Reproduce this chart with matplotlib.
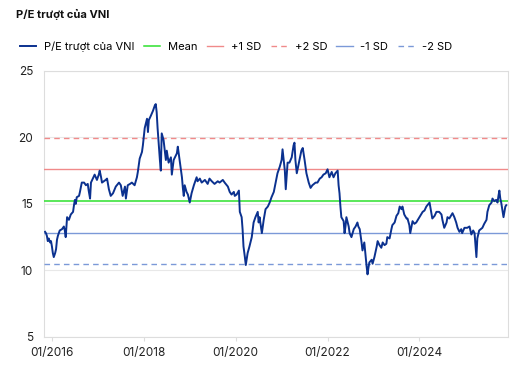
import matplotlib
matplotlib.use("Agg")
import matplotlib.pyplot as plt

plt.rcParams["font.family"] = ["Inter", "DejaVu Sans"]

# P/E trượt của VNI, thời gian tính theo năm thập phân
years = [2015.85, 2015.87, 2015.89, 2015.91, 2015.93, 2015.96, 2015.98, 2016.00, 2016.02, 2016.04,
         2016.07, 2016.09, 2016.11, 2016.13, 2016.17, 2016.22, 2016.26, 2016.28, 2016.30, 2016.33,
         2016.37, 2016.41, 2016.46, 2016.48, 2016.50, 2016.52, 2016.54, 2016.59, 2016.61, 2016.65,
         2016.70, 2016.74, 2016.78, 2016.80, 2016.83, 2016.85, 2016.89, 2016.93, 2016.98, 2017.02,
         2017.04, 2017.07, 2017.09, 2017.13, 2017.17, 2017.20, 2017.24, 2017.28, 2017.33, 2017.39,
         2017.46, 2017.50, 2017.54, 2017.59, 2017.61, 2017.65, 2017.70, 2017.74, 2017.80, 2017.85,
         2017.87, 2017.91, 2017.96, 2017.98, 2018.02, 2018.07, 2018.09, 2018.11, 2018.15, 2018.20,
         2018.24, 2018.26, 2018.28, 2018.30, 2018.35, 2018.37, 2018.39, 2018.43, 2018.48, 2018.50,
         2018.54, 2018.59, 2018.61, 2018.65, 2018.72, 2018.74, 2018.78, 2018.83, 2018.85, 2018.87,
         2018.89, 2018.93, 2018.96, 2019.00, 2019.04, 2019.09, 2019.15, 2019.17, 2019.22, 2019.26,
         2019.33, 2019.39, 2019.43, 2019.48, 2019.54, 2019.61, 2019.65, 2019.72, 2019.76, 2019.83,
         2019.87, 2019.91, 2019.96, 2019.98, 2020.02, 2020.07, 2020.09, 2020.13, 2020.15, 2020.17,
         2020.20, 2020.22, 2020.26, 2020.30, 2020.35, 2020.39, 2020.43, 2020.48, 2020.50, 2020.52,
         2020.57, 2020.61, 2020.65, 2020.70, 2020.74, 2020.78, 2020.83, 2020.87, 2020.91, 2020.96,
         2021.00, 2021.02, 2021.07, 2021.09, 2021.13, 2021.17, 2021.22, 2021.26, 2021.28, 2021.30,
         2021.33, 2021.39, 2021.43, 2021.46, 2021.50, 2021.54, 2021.59, 2021.63, 2021.67, 2021.74,
         2021.78, 2021.83, 2021.87, 2021.91, 2021.96, 2022.00, 2022.04, 2022.09, 2022.13, 2022.17,
         2022.22, 2022.24, 2022.26, 2022.28, 2022.30, 2022.35, 2022.37, 2022.39, 2022.41, 2022.46,
         2022.48, 2022.52, 2022.57, 2022.61, 2022.65, 2022.67, 2022.70, 2022.74, 2022.76, 2022.80,
         2022.83, 2022.85, 2022.87, 2022.89, 2022.91, 2022.96, 2022.98, 2023.02, 2023.07, 2023.09,
         2023.13, 2023.17, 2023.20, 2023.24, 2023.28, 2023.30, 2023.35, 2023.39, 2023.41, 2023.46,
         2023.50, 2023.54, 2023.57, 2023.61, 2023.63, 2023.67, 2023.72, 2023.74, 2023.78, 2023.80,
         2023.85, 2023.89, 2023.93, 2024.00, 2024.07, 2024.11, 2024.15, 2024.22, 2024.26, 2024.28,
         2024.33, 2024.37, 2024.43, 2024.48, 2024.50, 2024.54, 2024.59, 2024.61, 2024.65, 2024.72,
         2024.76, 2024.80, 2024.83, 2024.87, 2024.91, 2024.93, 2024.98, 2025.04, 2025.09, 2025.13,
         2025.17, 2025.20, 2025.24, 2025.26, 2025.30, 2025.37, 2025.41, 2025.46, 2025.48, 2025.52,
         2025.57, 2025.59, 2025.63, 2025.67, 2025.70, 2025.72, 2025.74, 2025.76, 2025.78, 2025.83,
         2025.87, 2025.89]

pe = [12.9, 12.8, 12.6, 12.2, 12.4, 12.1, 12.2, 11.8, 11.3, 11.0,
      11.3, 11.6, 12.3, 12.6, 13.0, 13.1, 13.3, 13.0, 12.5, 14.0,
      13.8, 14.2, 14.4, 14.9, 15.3, 15.0, 15.5, 15.6, 15.9, 16.6,
      16.6, 16.4, 16.5, 16.0, 15.4, 16.6, 16.9, 17.2, 16.8, 17.2,
      17.5, 17.0, 16.6, 16.7, 16.8, 16.9, 16.1, 15.6, 15.8, 16.3,
      16.6, 16.4, 15.6, 16.3, 15.4, 16.4, 16.5, 16.6, 16.4, 17.0,
      17.4, 18.4, 18.9, 19.4, 20.7, 21.4, 20.4, 21.3, 21.6, 22.0,
      22.4, 22.5, 21.9, 20.7, 18.3, 17.5, 20.3, 19.8, 18.3, 19.0,
      18.1, 18.5, 17.2, 18.3, 18.8, 19.3, 18.3, 17.0, 16.2, 15.6,
      16.4, 15.9, 15.7, 15.1, 15.8, 16.4, 17.0, 16.7, 16.9, 16.6,
      16.8, 16.5, 16.9, 16.7, 16.5, 16.7, 16.6, 16.8, 16.6, 16.3,
      15.9, 15.7, 15.9, 15.6, 15.7, 16.0, 14.4, 14.0, 13.1, 11.8,
      11.0, 10.4, 11.3, 11.8, 12.5, 13.6, 14.0, 14.4, 13.6, 14.0,
      12.8, 13.8, 14.6, 14.8, 15.1, 15.5, 15.9, 16.6, 17.3, 17.8,
      18.3, 19.1, 17.5, 16.1, 18.1, 18.1, 18.5, 19.4, 19.6, 18.3,
      17.3, 18.3, 19.0, 19.2, 18.3, 17.3, 16.6, 16.2, 16.4, 16.6,
      16.6, 16.9, 17.0, 17.2, 17.3, 17.6, 17.0, 17.4, 17.0, 17.3,
      17.5, 16.4, 15.8, 14.8, 14.0, 13.7, 12.8, 13.3, 14.0, 13.3,
      12.8, 12.5, 13.1, 13.3, 13.6, 13.3, 13.1, 12.1, 11.5, 12.1,
      11.0, 10.3, 9.7, 10.2, 10.6, 10.8, 10.5, 11.0, 11.8, 12.2,
      11.9, 11.7, 12.1, 11.9, 12.0, 12.5, 12.4, 13.1, 13.4, 13.6,
      14.1, 14.3, 14.8, 14.6, 14.8, 14.2, 13.9, 13.9, 13.4, 12.8,
      13.7, 13.5, 13.6, 14.0, 14.4, 14.5, 14.8, 15.1, 14.3, 13.9,
      14.1, 14.4, 14.4, 14.2, 13.8, 13.2, 13.6, 14.0, 13.9, 14.3,
      14.0, 13.6, 13.2, 12.9, 13.1, 12.8, 13.2, 13.2, 13.3, 12.7,
      13.0, 12.8, 11.0, 12.4, 13.0, 13.2, 13.5, 13.8, 14.4, 14.9,
      15.1, 15.4, 15.2, 15.3, 15.1, 15.6, 16.0, 15.4, 15.1, 14.0,
      14.8, 14.9]

mean_pe = 15.22
sd_pe = 2.38

tick_years = [2016, 2018, 2020, 2022, 2024]
tick_labels = ["01/2016", "01/2018", "01/2020", "01/2022", "01/2024"]

fig = plt.figure(figsize=(5.19, 3.69), dpi=100)
ax = fig.add_axes([0.085, 0.087, 0.894, 0.721])

ax.plot(years, pe, color="#0b318f", lw=1.4, label="P/E trượt của VNI", zorder=5)
ax.axhline(mean_pe, color="#2ee02e", lw=1.1, label="Mean", zorder=3)
ax.axhline(mean_pe + sd_pe, color="#f08a8a", lw=1.0, label="+1 SD", zorder=3)
ax.axhline(mean_pe + 2 * sd_pe, color="#f08a8a", lw=1.0, ls=(0, (4, 3)), label="+2 SD", zorder=3)
ax.axhline(mean_pe - sd_pe, color="#7b99d8", lw=1.0, label="-1 SD", zorder=3)
ax.axhline(mean_pe - 2 * sd_pe, color="#7b99d8", lw=1.0, ls=(0, (4, 3)), label="-2 SD", zorder=3)

ax.set_ylim(5, 25)
ax.set_xlim(2015.83, 2025.93)
ax.set_yticks([5, 10, 15, 20, 25])
ax.set_xticks(tick_years)
ax.set_xticklabels(tick_labels)
ax.grid(axis="y", color="#e8e8e8", lw=0.8)
ax.set_axisbelow(True)
for s in ax.spines.values():
    s.set_color("#dddddd")
    s.set_linewidth(0.8)
ax.tick_params(axis="both", labelsize=8.5, colors="#222222", length=0)
ax.tick_params(axis="x", length=3, color="#dddddd", pad=4)
ax.tick_params(axis="y", pad=8)

fig.text(0.031, 0.96, "P/E trượt của VNI", fontsize=8, fontweight="bold", va="center", color="#111111")
fig.legend(loc="center left", bbox_to_anchor=(0.02, 0.873), ncol=6, frameon=False,
           fontsize=8, handlelength=1.45, handletextpad=0.7, columnspacing=0.85)

fig.savefig("out.png", dpi=100)
